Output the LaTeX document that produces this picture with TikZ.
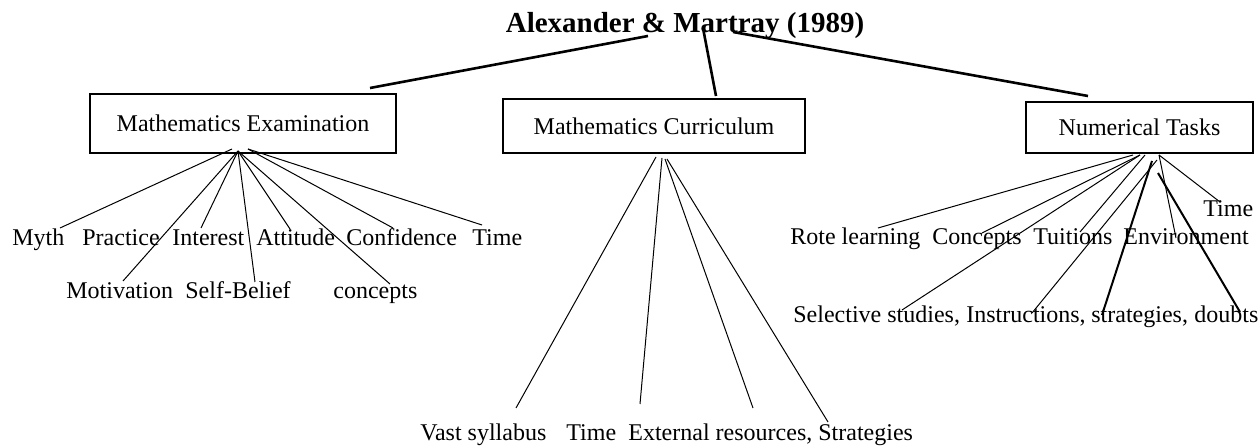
\documentclass[tikz,border=0pt]{standalone}
\usepackage{fontspec}
\setmainfont{Liberation Serif}
\usepackage{tikz}
\usetikzlibrary{calc, positioning}
\tikzset{
    topic/.style={draw, line width=1pt, inner sep=0pt, font=\fontsize{12}{14}\selectfont},
    leaf/.style={inner sep=0pt, anchor=base west, font=\fontsize{12}{14}\selectfont},
    link/.style={line width=1.3pt},
    twig/.style={line width=0.5pt},
    bough/.style={line width=1pt}
}

\begin{document}
\begin{tikzpicture}[x=0.5pt, y=-0.5pt]
        \useasboundingbox (0,0) rectangle (1260,448);
        \node[font=\fontsize{14.5}{17}\selectfont\bfseries, inner sep=0pt, anchor=base] (title) at (685,33) {Alexander \& Martray (1989)};
        \node[topic, minimum width=153pt, minimum height=29.5pt] (exam) at (243,123.5) {Mathematics Examination};
        \node[topic, minimum width=151pt, minimum height=27pt] (curric) at (654,126) {Mathematics Curriculum};
        \node[topic, minimum width=113.5pt, minimum height=25.5pt] (tasks) at (1139.5,127.5) {Numerical Tasks};
        \draw[link] ($(title.base)+(-37,3)$) -- ($(exam.north)+(127,-5)$);
        \draw[link] ($(title.base)+(18,-5)$) -- ($(curric.north)+(62,-2)$);
        \draw[link] ($(title.base)+(48,-1)$) -- ($(tasks.north)+(-51.5,-5)$);

        \node[leaf] (myth) at (12,246) {Myth};
        \node[leaf] (practice) at (82,246) {Practice};
        \node[leaf] (interest) at (172,246) {Interest};
        \node[leaf] (attitude) at (256,246) {Attitude};
        \node[leaf] (confid) at (346,246) {Confidence};
        \node[leaf] (etime) at (472,246) {Time};
        \node[leaf] (motiv) at (66,299) {Motivation};
        \node[leaf] (selfb) at (185,299) {Self-Belief};
        \node[leaf] (concpt) at (333,299) {concepts};
        \draw[twig] ($(exam.south)+(-11,-5)$) -- ($(myth.base west)+(48,-18)$);
        \draw[twig] ($(exam.south)+(-5,-3)$) -- ($(motiv.base west)+(57,-18)$);
        \draw[twig] ($(exam.south)+(-5,-3)$) -- ($(interest.base west)+(29,-18)$);
        \draw[twig] ($(exam.south)+(-5,-3)$) -- ($(selfb.base west)+(70,-17)$);
        \draw[twig] ($(exam.south)+(-5,-3)$) -- ($(attitude.base west)+(34,-17)$);
        \draw[twig] ($(exam.south)+(-5,-3)$) -- ($(concpt.base west)+(57,-15)$);
        \draw[twig] ($(exam.south)+(5,-5)$) -- ($(confid.base west)+(47,-18)$);
        \draw[twig] ($(exam.south)+(5,-5)$) -- ($(etime.base west)+(10,-21)$);

        \node[leaf] (vast) at (420,441) {Vast syllabus};
        \node[leaf] (ctime) at (566,441) {Time};
        \node[leaf] (extres) at (628,441) {External resources,};
        \node[leaf] (strat) at (818,441) {Strategies};
        \draw[twig] ($(curric.south)+(2,3)$) -- ($(vast.base west)+(96,-33)$);
        \draw[twig] ($(curric.south)+(8,4)$) -- ($(ctime.base west)+(74,-37)$);
        \draw[twig] ($(curric.south)+(11,5)$) -- ($(extres.base west)+(125,-33)$);
        \draw[twig] ($(curric.south)+(13,5)$) -- ($(strat.base west)+(10,-19)$);

        \node[leaf] (ttime) at (1203,217) {Time};
        \node[leaf] (rote) at (790,245) {Rote learning};
        \node[leaf] (nconc) at (932,245) {Concepts};
        \node[leaf] (tuit) at (1033,245) {Tuitions};
        \node[leaf] (envir) at (1123,245) {Environment};
        \node[leaf] (select) at (793,323) {Selective studies,};
        \node[leaf] (instr) at (966,323) {Instructions,};
        \node[leaf] (strg) at (1091,323) {strategies,};
        \node[leaf] (doubt) at (1194,323) {doubts};
        \draw[twig] ($(tasks.south)+(-6.5,1)$) -- ($(rote.base west)+(88,-17)$);
        \draw[twig] ($(tasks.south)+(0.5,1)$) -- ($(nconc.base west)+(50,-12)$);
        \draw[twig] ($(tasks.south)+(0.5,1)$) -- ($(select.base west)+(109,-13)$);
        \draw[twig] ($(tasks.south)+(5.5,1)$) -- ($(tuit.base west)+(47,-13)$);
        \draw[twig] ($(tasks.south)+(17.5,6)$) -- ($(instr.base west)+(66,-10)$);
        \draw[bough] ($(tasks.south)+(12.5,7)$) -- ($(strg.base west)+(11,-8)$);
        \draw[twig] ($(tasks.south)+(19.5,1)$) -- ($(envir.base west)+(53,-7)$);
        \draw[twig] ($(tasks.south)+(19.5,1)$) -- ($(ttime.base west)+(17,-15)$);
        \draw[bough] ($(tasks.south)+(18.5,19)$) -- ($(doubt.base west)+(46,-11)$);
\end{tikzpicture}
\end{document}
